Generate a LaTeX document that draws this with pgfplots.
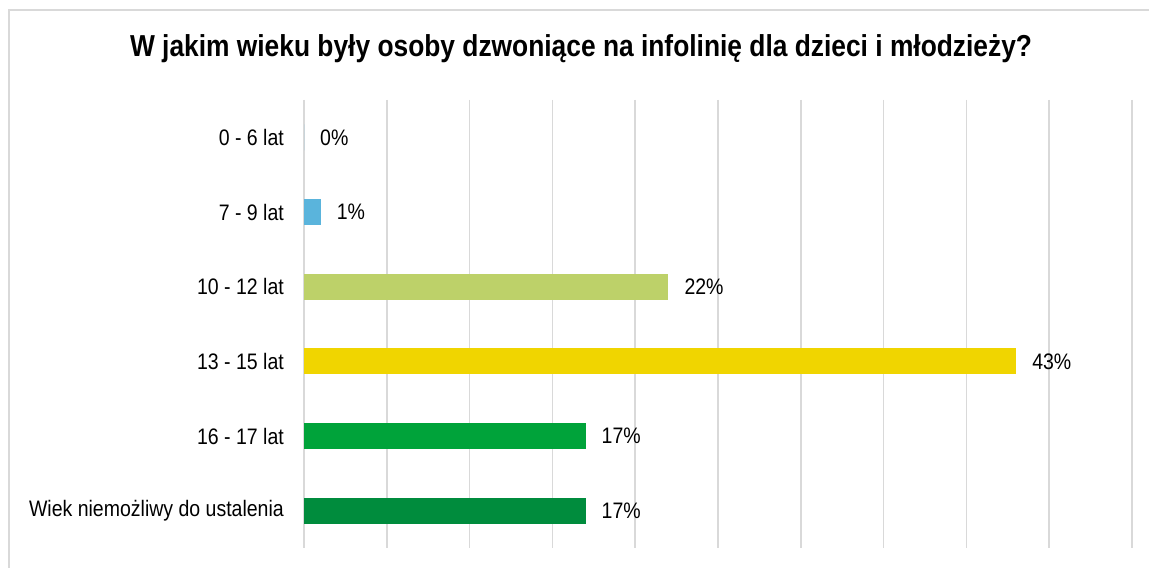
\documentclass[border=0pt]{standalone}
\usepackage{pgfplots}
\pgfplotsset{compat=1.18}
\usepackage{fontspec}
\setmainfont{Liberation Sans}[FakeStretch=0.87]
\definecolor{cblue}{HTML}{5AB4DC}
\definecolor{clime}{HTML}{BDD169}
\definecolor{cyel}{HTML}{F0D500}
\definecolor{cgreen}{HTML}{00A33A}
\definecolor{cdgreen}{HTML}{008C3D}
\definecolor{gridc}{HTML}{D9D9D9}
\begin{document}
\begin{tikzpicture}[x=1bp,y=1bp]
\useasboundingbox (0,0) rectangle (1149,568);
\clip (0,0) rectangle (1149,568);
\fill[white] (0,0) rectangle (1149,568);
\draw[line width=1.5bp, gridc] (9,-10) rectangle (1170,558);
\node[font=\bfseries\fontsize{30.4}{34}\selectfont, anchor=center] at (581,519) {W jakim wieku były osoby dzwoniące na infolinię dla dzieci i młodzieży?};
\begin{axis}[
  at={(304bp,20bp)}, anchor=south west, scale only axis,
  width=828bp, height=448bp,
  xmin=0, xmax=50, ymin=-0.5, ymax=5.5, y dir=reverse,
  xbar, bar width=26bp, bar shift=0pt,
  axis line style={draw=none},
  xtick={0,5,...,50}, xticklabels={},
  xmajorgrids, grid style={gridc, line width=1.7bp},
  major tick length=0,
  ytick={0,...,5},
  yticklabels={0 - 6 lat,7 - 9 lat,10 - 12 lat,13 - 15 lat,16 - 17 lat,Wiek niemożliwy do ustalenia},
  yticklabel style={font=\fontsize{22.5}{26}\selectfont, inner sep=0pt, xshift=-20bp},
  /pgf/number format/assume math mode=true,
  nodes near coords={\pgfmathprintnumber{\pgfplotspointmeta}\%},
  nodes near coords style={font=\fontsize{22.5}{26}\selectfont, anchor=west, inner sep=0pt, xshift=16bp},
  point meta=x,
  every axis plot/.append style={draw=none},
]
\addplot[fill=cblue] coordinates {(0,0)};
\addplot[fill=cblue] coordinates {(1,1)};
\addplot[fill=clime] coordinates {(22,2)};
\addplot[fill=cyel] coordinates {(43,3)};
\addplot[fill=cgreen] coordinates {(17,4)};
\addplot[fill=cdgreen] coordinates {(17,5)};
\end{axis}
\end{tikzpicture}
\end{document}
